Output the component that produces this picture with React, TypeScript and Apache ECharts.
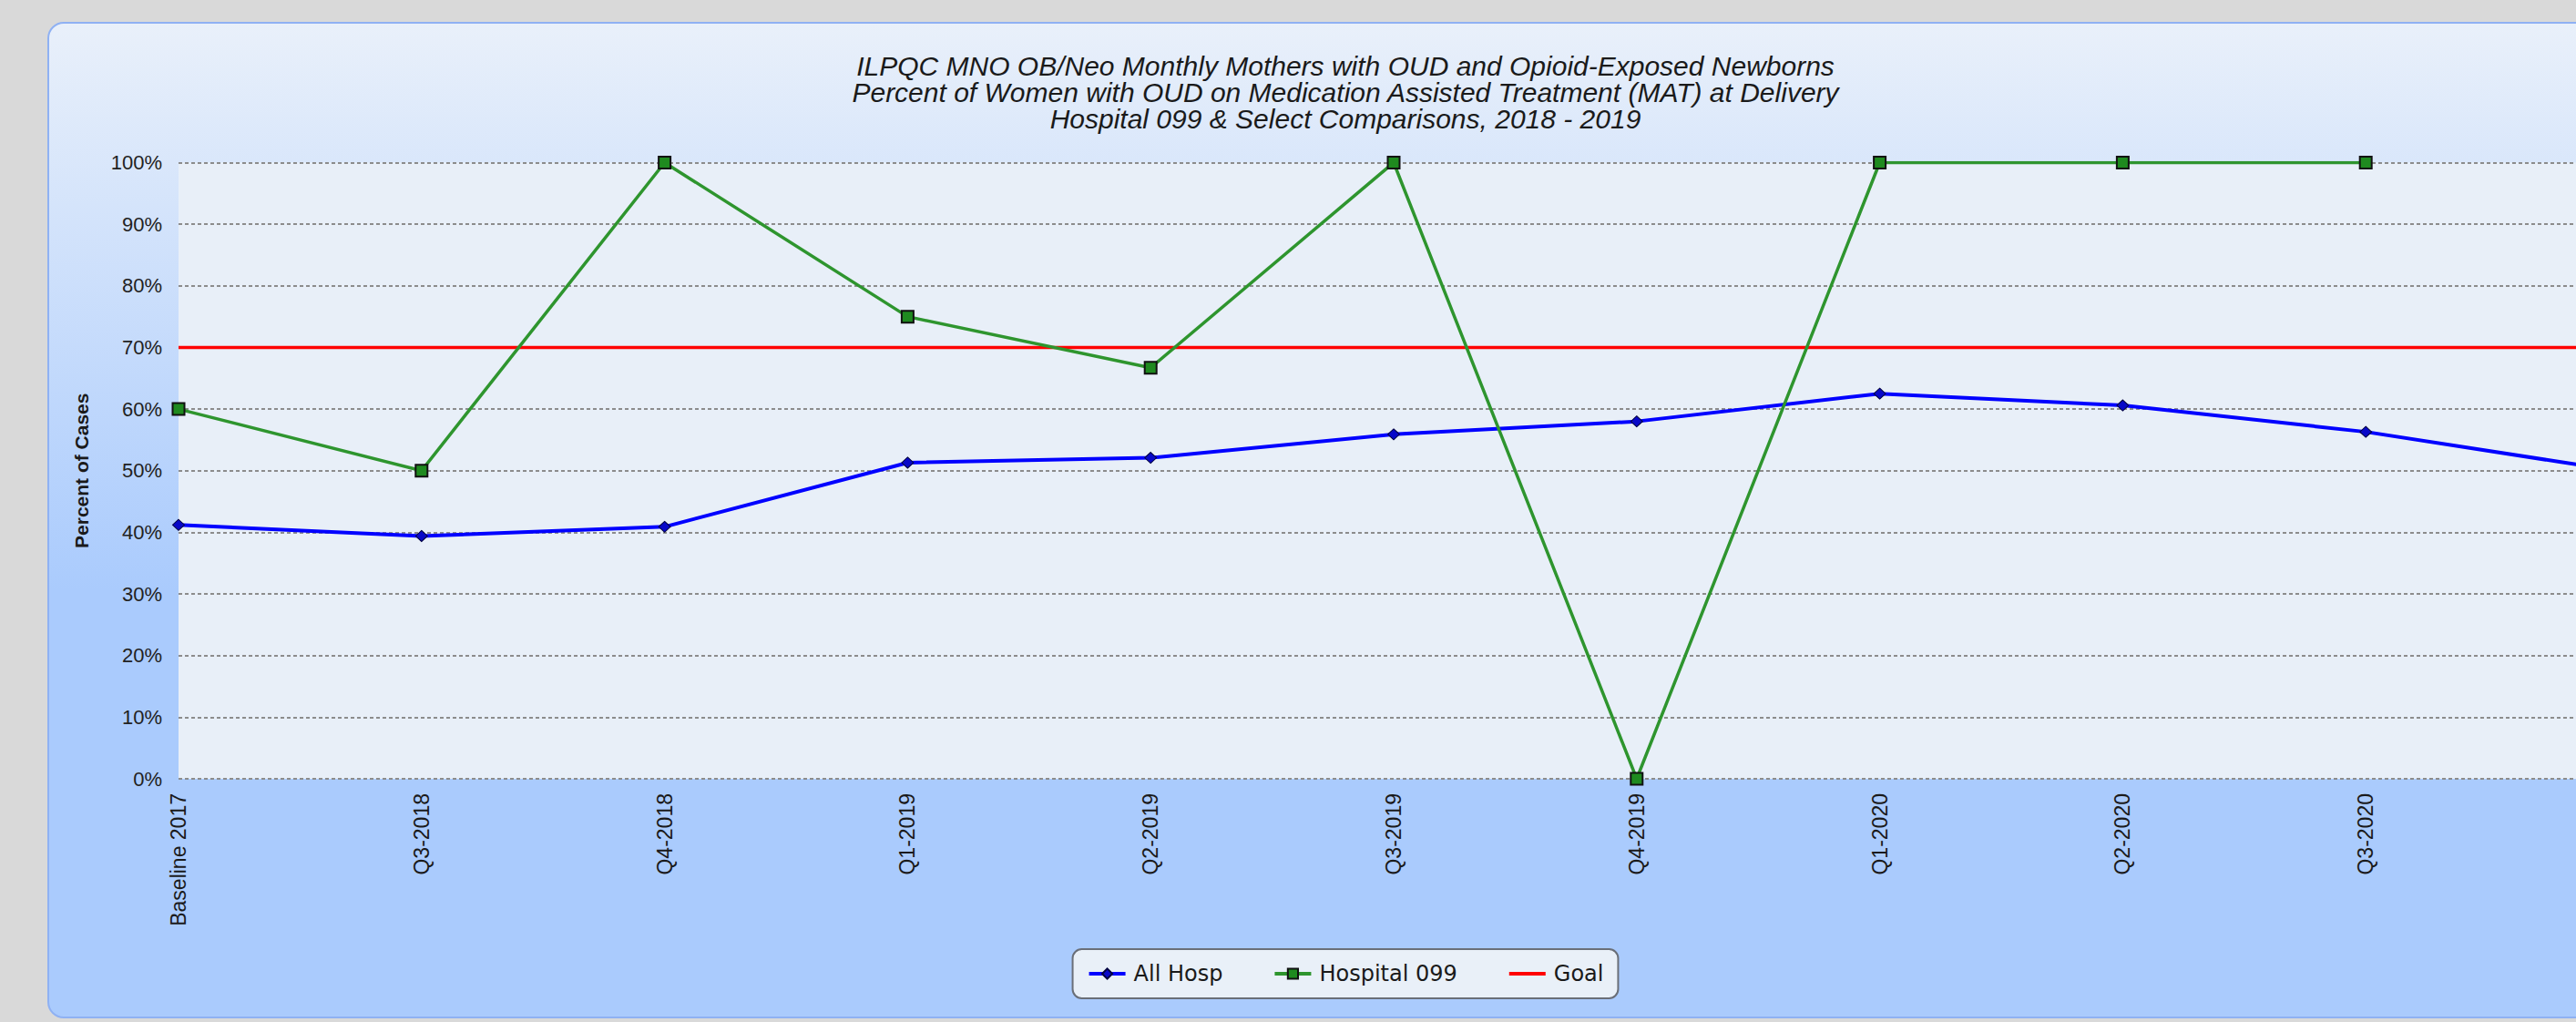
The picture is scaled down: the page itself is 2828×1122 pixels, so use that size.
import React, { useEffect, useRef } from "react";
import * as echarts from "echarts";

const categories = [
  "Baseline 2017",
  "Q3-2018",
  "Q4-2018",
  "Q1-2019",
  "Q2-2019",
  "Q3-2019",
  "Q4-2019",
  "Q1-2020",
  "Q2-2020",
  "Q3-2020",
  "Q4-2020",
];
const allHosp = [41.2, 39.4, 40.9, 51.3, 52.1, 55.9, 58.0, 62.5, 60.6, 56.3, 50.2];
const hospital099: (number | null)[] = [60, 50, 100, 75, 66.7, 100, 0, 100, 100, 100, null];
const goal = [70, 70, 70, 70, 70, 70, 70, 70, 70, 70, 70];
const yMin = 0;
const yMax = 100;
const yStep = 10;

const titleLines = [
  "ILPQC MNO OB/Neo Monthly Mothers with OUD and Opioid-Exposed Newborns",
  "Percent of Women with OUD on Medication Assisted Treatment (MAT) at Delivery",
  "Hospital 099 & Select Comparisons, 2018 - 2019",
];

const CHART_W = 2954;
const CHART_H = 1122;

export default function App() {
  const ref = useRef<HTMLDivElement>(null);

  useEffect(() => {
    if (!ref.current) return;
    const chart = echarts.init(ref.current, undefined, { renderer: "svg" });
    chart.setOption({
      animation: false,
      backgroundColor: "transparent",
      title: {
        text: titleLines.join("\n"),
        left: "center",
        top: 58,
        padding: 0,
        textStyle: {
          fontFamily: "Liberation Sans",
          fontStyle: "italic",
          fontWeight: "normal",
          fontSize: 30,
          lineHeight: 29,
          color: "#1a1a1a",
        },
      },
      legend: {
        bottom: CHART_H - 1096,
        left: "center",
        padding: [15, 16],
        itemGap: 55,
        itemWidth: 40,
        itemHeight: 14,
        backgroundColor: "#e9f0f8",
        borderColor: "#6a6f78",
        borderWidth: 2,
        borderRadius: 10,
        lineStyle: { width: 4 },
        textStyle: {
          fontFamily: "DejaVu Sans",
          fontSize: 24,
          color: "#1a1a1a",
          padding: [0, 0, 0, 4],
        },
        data: ["All Hosp", "Hospital 099", "Goal"],
      },
      grid: {
        left: 196,
        right: 90,
        top: 178.5,
        bottom: CHART_H - 855,
        show: true,
        backgroundColor: "#e8eff8",
        borderWidth: 0,
        containLabel: false,
      },
      xAxis: {
        type: "category",
        data: categories,
        boundaryGap: false,
        axisLine: { show: false },
        axisTick: { show: false },
        splitLine: { show: false },
        axisLabel: {
          rotate: 90,
          margin: 16,
          fontFamily: "Liberation Sans",
          fontSize: 23,
          color: "#1a1a1a",
          interval: 0,
          formatter: (v: string, i: number) => (i === categories.length - 1 ? "" : v),
        },
      },
      yAxis: {
        type: "value",
        min: yMin,
        max: yMax,
        interval: yStep,
        name: "Percent of Cases",
        nameLocation: "middle",
        nameRotate: 90,
        nameGap: 96,
        nameTextStyle: {
          fontFamily: "Liberation Sans",
          fontWeight: "bold",
          fontSize: 21,
          color: "#1a1a1a",
        },
        axisLine: { show: false },
        axisTick: { show: false },
        axisLabel: {
          formatter: "{value}%",
          margin: 18,
          fontFamily: "Liberation Sans",
          fontSize: 22,
          color: "#222",
        },
        splitLine: {
          show: true,
          lineStyle: { color: "#8c8c8c", width: 2, type: [4, 3] },
        },
      },
      series: [
        {
          name: "Goal",
          type: "line",
          data: goal,
          symbol: "none",
          showSymbol: false,
          lineStyle: { color: "#ff0000", width: 3.5 },
          itemStyle: { color: "rgba(255,0,0,0)", borderWidth: 0 },
          z: 2,
        },
        {
          name: "All Hosp",
          type: "line",
          data: allHosp,
          symbol: "diamond",
          symbolSize: [13, 12],
          lineStyle: { color: "#0000ff", width: 4 },
          itemStyle: { color: "#0808c8", borderColor: "#000040", borderWidth: 1 },
          z: 3,
        },
        {
          name: "Hospital 099",
          type: "line",
          data: hospital099,
          symbol: "rect",
          symbolSize: 13,
          connectNulls: false,
          lineStyle: { color: "#2e952e", width: 3.5 },
          itemStyle: { color: "#1f8a1f", borderColor: "#111", borderWidth: 2 },
          z: 4,
        },
      ],
    });
    return () => chart.dispose();
  }, []);

  return (
    <div
      style={{
        position: "fixed",
        left: 0,
        top: 0,
        width: 2828,
        height: 1122,
        overflow: "hidden",
        background: "#d9d9d9",
      }}
    >
      <div
        style={{
          position: "absolute",
          left: 52,
          top: 24,
          width: 2850,
          height: 1094,
          boxSizing: "border-box",
          border: "2px solid #8fb1f3",
          borderRadius: 18,
          background:
            "linear-gradient(to bottom, #e9f0fa 0%, #aacbfd 57%, #aacbfd 100%)",
        }}
      />
      <div
        ref={ref}
        style={{ position: "absolute", left: 0, top: 0, width: CHART_W, height: CHART_H }}
      />
    </div>
  );
}
